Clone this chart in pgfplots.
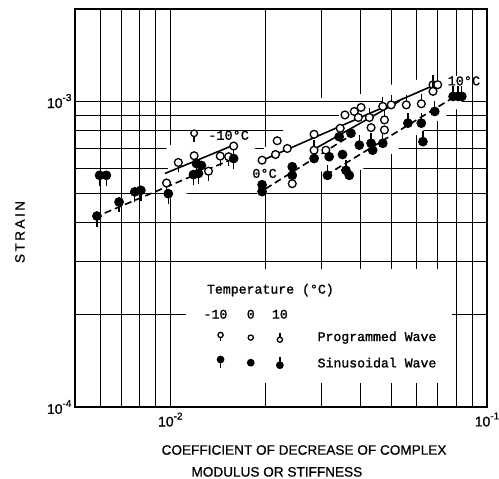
\documentclass[border=0pt]{standalone}
\usepackage{fontspec}
\setmainfont{Liberation Sans}
\newfontfamily\mono[FakeBold=1.3]{Liberation Mono}
\newfontfamily\titlef[FakeBold=0.8]{Liberation Sans}
\usepackage{pgfplots}
\pgfplotsset{compat=1.18}

\pgfdeclareplotmark{stemdown}{%
  \pgfpathmoveto{\pgfqpoint{0pt}{0pt}}%
  \pgfpathlineto{\pgfqpoint{0pt}{-2.5\pgfplotmarksize}}%
  \pgfusepathqstroke
  \pgfpathcircle{\pgfpointorigin}{\pgfplotmarksize}%
  \pgfusepathqfillstroke}
\pgfdeclareplotmark{stemup}{%
  \pgfpathmoveto{\pgfqpoint{0pt}{0pt}}%
  \pgfpathlineto{\pgfqpoint{0pt}{2.5\pgfplotmarksize}}%
  \pgfusepathqstroke
  \pgfpathcircle{\pgfpointorigin}{\pgfplotmarksize}%
  \pgfusepathqfillstroke}
\pgfdeclareplotmark{ring}{%
  \pgfpathcircle{\pgfpointorigin}{\pgfplotmarksize}%
  \pgfusepathqfillstroke}

\newcommand{\tl}[1]{10\raisebox{0.5em}{\fontsize{10}{10}\selectfont #1}}

\begin{document}
\begin{tikzpicture}
\useasboundingbox (-75pt,-72pt) rectangle (424pt,407pt);
\begin{axis}[
  at={(0,0)}, anchor=south west,
  scale only axis, width=412pt, height=398pt,
  xmode=log, ymode=log,
  xmin=0.005, xmax=0.1, ymin=1e-4, ymax=2e-3,
  xtick={0.01,0.1}, xticklabels={\tl{-2},\tl{-1}},
  ytick={1e-4,1e-3}, yticklabels={\tl{-4},\tl{-3}},
  minor xtick={0.006,0.007,0.008,0.009,0.02,0.03,0.04,0.05,0.06,0.07,0.08,0.09},
  minor ytick={2e-4,3e-4,4e-4,5e-4,6e-4,7e-4,8e-4,9e-4},
  grid=both,
  major grid style={black, line width=1.1pt},
  minor grid style={black, line width=1.0pt},
  major tick length=0pt, minor tick length=0pt,
  axis line style={black, line width=1.9pt},
  ticklabel style={font=\titlef\fontsize{14}{15}\selectfont},
  xticklabel style={yshift=-2pt},
  clip=false,
]
% gaps in the printed grid around the data band
\fill[white] (axis cs:0.00971,7.17e-4) -- (axis cs:0.01585,7.55e-4) -- (axis cs:0.01931,6.85e-4)
  -- (axis cs:0.02929,1.023e-3) -- (axis cs:0.03895,1.046e-3) -- (axis cs:0.04922,1.129e-3)
  -- (axis cs:0.06939,1.208e-3) -- (axis cs:0.08329,1.208e-3) -- (axis cs:0.08329,9.63e-4)
  -- (axis cs:0.06939,8.59e-4) -- (axis cs:0.05908,7.67e-4) -- (axis cs:0.04922,6.65e-4)
  -- (axis cs:0.03895,5.89e-4) -- (axis cs:0.02929,5.89e-4) -- (axis cs:0.01931,4.91e-4)
  -- (axis cs:0.01585,5.58e-4) -- (axis cs:0.01,4.80e-4) -- cycle;
\draw[black, line width=1.1pt] (axis cs:0.01644,1e-3) -- (axis cs:0.04677,1e-3);
\draw[black, line width=1.0pt] (axis cs:0.01644,9e-4) -- (axis cs:0.03415,9e-4);
% legend white box
\fill[white] (axis cs:0.01124,1.2e-4) rectangle (axis cs:0.0774,2.82e-4);

% fitted lines
\addplot[black, line width=1.6pt] coordinates {(0.00962,5.80e-4) (0.01585,7.18e-4)};
\addplot[black, line width=1.6pt, dash pattern=on 7pt off 4pt] coordinates {(0.005768,4.17e-4) (0.01585,6.49e-4)};
\addplot[black, line width=1.6pt] coordinates {(0.01917,6.35e-4) (0.06939,1.137e-3)};
\addplot[black, line width=1.6pt] coordinates {(0.02803,6.90e-4) (0.05295,1.0e-3)};
\addplot[black, line width=1.6pt, dash pattern=on 7pt off 4pt] coordinates {(0.01999,5.17e-4) (0.03811,7.85e-4)};
\addplot[black, line width=1.6pt, dash pattern=on 7pt off 4pt] coordinates {(0.03099,5.72e-4) (0.08091,1.049e-3)};

% -10 C programmed (open, stem down)
\addplot[only marks, mark=stemdown, mark size=3.9pt, mark options={solid, draw=black, fill=white, line width=1.3pt}] coordinates {
(0.00973,5.40e-4) (0.01060,6.30e-4) (0.01189,6.63e-4) (0.01320,5.90e-4) (0.01438,6.61e-4) (0.01528,6.58e-4) (0.01585,7.13e-4)};
% -10 C sinusoidal (filled, stem down)
\addplot[only marks, mark=stemdown, mark size=4.2pt, mark options={solid, draw=black, fill=black, line width=1.3pt}] coordinates {
(0.005866,4.21e-4) (0.00598,5.72e-4) (0.006279,5.72e-4) (0.00689,4.68e-4) (0.007725,5.05e-4) (0.008072,5.11e-4) (0.009855,4.98e-4) (0.01209,6.25e-4) (0.01254,6.16e-4) (0.01227,5.80e-4) (0.01183,5.75e-4) (0.01585,6.49e-4)};
% 0 C programmed (open)
\addplot[only marks, mark=ring, mark size=3.9pt, mark options={solid, draw=black, fill=white, line width=1.3pt}] coordinates {
(0.01949,6.41e-4) (0.02149,6.69e-4) (0.02175,7.42e-4) (0.02340,7.00e-4) (0.02844,7.79e-4) (0.03440,8.15e-4) (0.03560,9.01e-4) (0.03811,9.25e-4) (0.04003,9.535e-4) (0.03924,8.84e-4) (0.04305,8.19e-4) (0.04745,8.05e-4) (0.03099,6.91e-4) (0.02427,5.37e-4)};
% 10 C programmed (open, stem up)
\addplot[only marks, mark=stemup, mark size=3.9pt, mark options={solid, draw=black, fill=white, line width=1.3pt}] coordinates {
(0.02844,6.91e-4) (0.04252,8.84e-4) (0.04687,9.61e-4) (0.04984,9.72e-4) (0.04745,8.68e-4) (0.05561,9.72e-4) (0.06204,9.80e-4) (0.06754,1.131e-3) (0.06989,1.131e-3) (0.06754,1.076e-3)};
% 0 C sinusoidal (filled)
\addplot[only marks, mark=ring, mark size=4.2pt, mark options={solid, draw=black, fill=black, line width=1.3pt}] coordinates {
(0.01949,5.33e-4) (0.01949,5.06e-4) (0.02427,6.10e-4) (0.02427,5.72e-4) (0.02844,6.49e-4) (0.03174,6.58e-4) (0.03498,6.69e-4) (0.03415,7.65e-4) (0.03720,7.85e-4) (0.04355,6.91e-4) (0.03674,5.72e-4)};
% 10 C sinusoidal (filled, stem up)
\addplot[only marks, mark=stemup, mark size=4.2pt, mark options={solid, draw=black, fill=black, line width=1.3pt}] coordinates {
(0.03953,7.18e-4) (0.04305,7.28e-4) (0.04687,7.28e-4) (0.05627,8.47e-4) (0.06204,8.47e-4) (0.06277,7.37e-4) (0.06839,9.25e-4) (0.07816,1.036e-3) (0.08107,1.036e-3) (0.08329,1.036e-3) (0.03135,5.72e-4) (0.03586,5.94e-4)};

% annotation marker for -10 C
\addplot[only marks, mark=stemdown, mark size=3.3pt, mark options={solid, draw=black, fill=white, line width=1.3pt}] coordinates {(0.01189,7.85e-4)};
\node[font=\mono\fontsize{13.5}{14}\selectfont] at (axis cs:0.01528,7.73e-4) {-10\textdegree C};
\node[font=\mono\fontsize{13.5}{14}\selectfont] at (axis cs:0.01984,5.80e-4) {0\textdegree C};
\node[font=\mono\fontsize{13.5}{14}\selectfont] at (axis cs:0.08453,1.164e-3) {10\textdegree C};

% legend
\node[font=\mono\fontsize{13.2}{14}\selectfont, anchor=west] at (axis cs:0.01273,2.41e-4) {Temperature (\textdegree C)};
\node[font=\mono\fontsize{13.2}{14}\selectfont] at (axis cs:0.01389,2.01e-4) {-10};
\node[font=\mono\fontsize{13.2}{14}\selectfont] at (axis cs:0.01795,2.01e-4) {0};
\node[font=\mono\fontsize{13.2}{14}\selectfont] at (axis cs:0.02218,2.01e-4) {10};
\addplot[only marks, mark=stemdown, mark size=2.6pt, mark options={solid, draw=black, fill=white, line width=1.3pt}] coordinates {(0.01441,1.72e-4)};
\addplot[only marks, mark=ring, mark size=2.6pt, mark options={solid, draw=black, fill=white, line width=1.3pt}] coordinates {(0.01795,1.686e-4)};
\addplot[only marks, mark=stemup, mark size=2.6pt, mark options={solid, draw=black, fill=white, line width=1.3pt}] coordinates {(0.02218,1.66e-4)};
\addplot[only marks, mark=stemdown, mark size=3.2pt, mark options={solid, draw=black, fill=black, line width=1.3pt}] coordinates {(0.01441,1.43e-4)};
\addplot[only marks, mark=ring, mark size=3.2pt, mark options={solid, draw=black, fill=black, line width=1.3pt}] coordinates {(0.01795,1.396e-4)};
\addplot[only marks, mark=stemup, mark size=3.2pt, mark options={solid, draw=black, fill=black, line width=1.3pt}] coordinates {(0.02218,1.37e-4)};
\node[font=\mono\fontsize{13.2}{14}\selectfont, anchor=west] at (axis cs:0.02844,1.686e-4) {Programmed Wave};
\node[font=\mono\fontsize{13.2}{14}\selectfont, anchor=west] at (axis cs:0.02844,1.396e-4) {Sinusoidal Wave};

% axis titles
\node[rotate=90, font=\titlef\fontsize{13.6}{15}\selectfont\addfontfeatures{LetterSpace=18}] at (axis description cs:-0.1335,0.4397) {STRAIN};
\node[font=\titlef\fontsize{13.6}{15}\selectfont] at (axis description cs:0.556,-0.108) {COEFFICIENT OF DECREASE OF COMPLEX};
\node[font=\titlef\fontsize{13.6}{15}\selectfont] at (axis description cs:0.490,-0.163) {MODULUS OR STIFFNESS};
\end{axis}
\end{tikzpicture}
\end{document}
